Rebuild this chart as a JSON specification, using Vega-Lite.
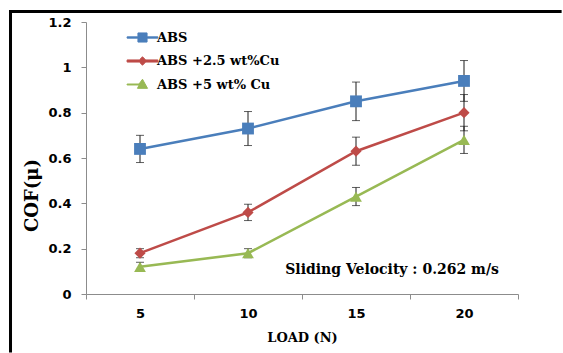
{
  "$schema": "https://vega.github.io/schema/vega-lite/v6.json",
  "width": 432,
  "height": 272,
  "padding": {"left": 8, "top": 9, "right": 0, "bottom": 0},
  "background": "white",
  "config": {
    "view": {"stroke": null},
    "axis": {
      "grid": false,
      "domainColor": "#8c8c8c",
      "tickColor": "#8c8c8c",
      "domainWidth": 1,
      "tickWidth": 1,
      "tickSize": 5,
      "labelFont": "DejaVu Sans",
      "labelFontWeight": "bold",
      "labelFontSize": 13,
      "labelColor": "black",
      "titleFont": "DejaVu Serif",
      "titleFontWeight": "bold",
      "titleColor": "black"
    },
    "legend": {
      "orient": "none",
      "legendX": 49,
      "legendY": 8,
      "symbolSize": 196,
      "symbolStrokeWidth": 1,
      "labelFont": "DejaVu Serif",
      "labelFontWeight": "bold",
      "labelFontSize": 13,
      "labelColor": "black",
      "labelOffset": 7,
      "rowPadding": 8.5,
      "title": null
    }
  },
  "data": {
    "values": [
      {"load": 5, "series": "ABS", "cof": 0.64, "err": 0.06},
      {"load": 10, "series": "ABS", "cof": 0.73, "err": 0.075},
      {"load": 15, "series": "ABS", "cof": 0.85, "err": 0.085},
      {"load": 20, "series": "ABS", "cof": 0.94, "err": 0.09},
      {"load": 5, "series": "ABS +2.5 wt%Cu", "cof": 0.18, "err": 0.02},
      {"load": 10, "series": "ABS +2.5 wt%Cu", "cof": 0.36, "err": 0.036},
      {"load": 15, "series": "ABS +2.5 wt%Cu", "cof": 0.63, "err": 0.062},
      {"load": 20, "series": "ABS +2.5 wt%Cu", "cof": 0.8, "err": 0.08},
      {"load": 5, "series": "ABS +5 wt% Cu", "cof": 0.12, "err": 0.02},
      {"load": 10, "series": "ABS +5 wt% Cu", "cof": 0.18, "err": 0.02},
      {"load": 15, "series": "ABS +5 wt% Cu", "cof": 0.43, "err": 0.04},
      {"load": 20, "series": "ABS +5 wt% Cu", "cof": 0.68, "err": 0.06}
    ]
  },
  "layer": [
    {
      "mark": {"type": "line", "strokeWidth": 2.5},
      "encoding": {
        "x": {
          "field": "load", "type": "quantitative", "title": "LOAD (N)",
          "scale": {"domain": [2.5, 22.5]},
          "axis": {
            "titleFontSize": 13,
            "titleBaseline": "middle",
            "titleY": 43.5,
            "values": [2.5, 5, 7.5, 10, 12.5, 15, 17.5, 20, 22.5],
            "labelExpr": "datum.value % 5 === 0 ? format(datum.value, 'd') : ''",
            "tickOpacity": {"condition": {"test": "datum.value % 5 === 0", "value": 0}, "value": 1},
            "labelPadding": 8,
            "labelFlush": false
          }
        },
        "y": {
          "field": "cof", "type": "quantitative", "title": "COF(μ)",
          "scale": {"domain": [0, 1.2]},
          "axis": {
            "titleFontSize": 18,
            "titleAngle": 270,
            "titleAlign": "center",
            "titleBaseline": "middle",
            "titleX": -53.5,
            "titleY": 173,
            "values": [0, 0.2, 0.4, 0.6, 0.8, 1, 1.2],
            "format": "~g",
            "labelPadding": 10
          }
        },
        "color": {
          "field": "series", "type": "nominal",
          "scale": {"range": ["#4a7ebb", "#be4b48", "#98b954"]},
          "legend": null
        }
      }
    },
    {
      "data": {"values": [{}]},
      "mark": {"type": "rule", "color": "black", "strokeWidth": 3, "strokeCap": "square", "clip": false},
      "encoding": {
        "x": {"datum": -0.995, "type": "quantitative", "scale": {"domain": [2.5, 22.5]}},
        "y": {"datum": 1.2463, "type": "quantitative", "scale": {"domain": [0, 1.2]}},
        "y2": {"datum": -0.2515}
      }
    },
    {
      "data": {"values": [{}]},
      "mark": {"type": "rule", "color": "black", "strokeWidth": 3, "strokeCap": "square", "clip": false},
      "encoding": {
        "x": {"datum": -0.995, "type": "quantitative", "scale": {"domain": [2.5, 22.5]}},
        "x2": {"datum": 24.45},
        "y": {"datum": 1.2463, "type": "quantitative", "scale": {"domain": [0, 1.2]}}
      }
    },
    {
      "mark": {"type": "errorbar", "ticks": true, "size": 8, "thickness": 1, "color": "#1a1a1a"},
      "encoding": {
        "x": {"field": "load", "type": "quantitative", "title": "LOAD (N)", "scale": {"domain": [2.5, 22.5]}},
        "y": {"field": "cof", "type": "quantitative", "title": "COF(μ)", "scale": {"domain": [0, 1.2]}},
        "yError": {"field": "err"},
        "detail": {"field": "series", "type": "nominal"}
      }
    },
    {
      "transform": [{"filter": {"field": "series", "equal": "ABS"}}],
      "mark": {"type": "point", "filled": true, "opacity": 1, "size": 140, "shape": "square"},
      "encoding": {
        "x": {"field": "load", "type": "quantitative", "title": "LOAD (N)", "scale": {"domain": [2.5, 22.5]}},
        "y": {"field": "cof", "type": "quantitative", "title": "COF(μ)", "scale": {"domain": [0, 1.2]}},
        "color": {"field": "series", "type": "nominal", "scale": {"range": ["#4a7ebb", "#be4b48", "#98b954"]}, "legend": null}
      }
    },
    {
      "transform": [{"filter": {"field": "series", "equal": "ABS +2.5 wt%Cu"}}],
      "mark": {"type": "point", "filled": true, "opacity": 1, "size": 125, "shape": "diamond"},
      "encoding": {
        "x": {"field": "load", "type": "quantitative", "title": "LOAD (N)", "scale": {"domain": [2.5, 22.5]}},
        "y": {"field": "cof", "type": "quantitative", "title": "COF(μ)", "scale": {"domain": [0, 1.2]}},
        "color": {"field": "series", "type": "nominal", "scale": {"range": ["#4a7ebb", "#be4b48", "#98b954"]}, "legend": null}
      }
    },
    {
      "transform": [{"filter": {"field": "series", "equal": "ABS +5 wt% Cu"}}],
      "mark": {"type": "point", "filled": true, "opacity": 1, "size": 140, "shape": "triangle-up"},
      "encoding": {
        "x": {"field": "load", "type": "quantitative", "title": "LOAD (N)", "scale": {"domain": [2.5, 22.5]}},
        "y": {"field": "cof", "type": "quantitative", "title": "COF(μ)", "scale": {"domain": [0, 1.2]}},
        "color": {"field": "series", "type": "nominal", "scale": {"range": ["#4a7ebb", "#be4b48", "#98b954"]}, "legend": null}
      }
    },
    {
      "transform": [{"filter": "false"}],
      "mark": {"type": "point", "filled": true, "opacity": 1, "strokeWidth": 1},
      "encoding": {
        "x": {"field": "load", "type": "quantitative", "title": "LOAD (N)", "scale": {"domain": [2.5, 22.5]}},
        "y": {"field": "cof", "type": "quantitative", "title": "COF(μ)", "scale": {"domain": [0, 1.2]}},
        "fill": {
          "field": "series", "type": "nominal",
          "scale": {"domain": ["ABS", "ABS +2.5 wt%Cu", "ABS +5 wt% Cu"], "range": ["#4a7ebb", "#be4b48", "#98b954"]}
        },
        "stroke": {
          "field": "series", "type": "nominal",
          "scale": {"domain": ["ABS", "ABS +2.5 wt%Cu", "ABS +5 wt% Cu"], "range": ["#4a7ebb", "#be4b48", "#98b954"]}
        },
        "shape": {
          "field": "series", "type": "nominal",
          "scale": {
            "domain": ["ABS", "ABS +2.5 wt%Cu", "ABS +5 wt% Cu"],
            "range": [
              "M-2.2,-0.09H-0.65V-0.65H0.65V-0.09H2.2V0.09H0.65V0.65H-0.65V0.09H-2.2Z",
              "M-2.2,-0.15H-0.45L0,-0.6L0.45,-0.15H2.2V0.15H0.45L0,0.6L-0.45,0.15H-2.2Z",
              "M-2.2,-0.07H-0.5L0,-0.75L0.72,0.55H-0.72L-0.48,0.07H-2.2Z"
            ]
          }
        }
      }
    },
    {
      "data": {"values": [{}]},
      "mark": {"type": "text", "text": "Sliding Velocity : 0.262 m/s", "font": "DejaVu Serif", "fontWeight": "bold", "fontSize": 14, "color": "black", "align": "center", "baseline": "middle"},
      "encoding": {
        "x": {"datum": 16.67, "type": "quantitative", "scale": {"domain": [2.5, 22.5]}},
        "y": {"datum": 0.106, "type": "quantitative", "scale": {"domain": [0, 1.2]}}
      }
    }
  ]
}
